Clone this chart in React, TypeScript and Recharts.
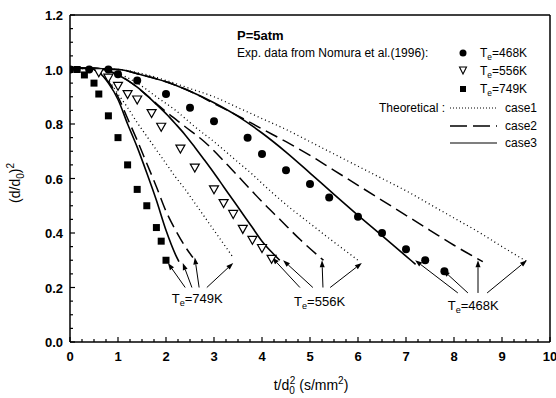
import React from 'react';
import {
  ComposedChart,
  Line,
  Scatter,
  XAxis,
  YAxis,
  ReferenceLine,
  ReferenceDot,
} from 'recharts';

// experimental data, Nomura et al. (1996)
const t468 = [0, 0.4, 0.8, 1.0, 1.4, 2.0, 2.5, 3.0, 3.7, 4.0, 4.5, 5.0, 5.4, 6.0, 6.5, 7.0, 7.4, 7.8];
const v468 = [1.0, 1.0, 1.0, 0.983, 0.96, 0.91, 0.86, 0.81, 0.75, 0.69, 0.63, 0.58, 0.53, 0.46, 0.4, 0.34, 0.3, 0.26];
const t556 = [0.6, 0.8, 1.0, 1.2, 1.4, 1.7, 1.9, 2.3, 2.6, 3.0, 3.2, 3.4, 3.6, 3.8, 4.0, 4.2];
const v556 = [0.99, 0.97, 0.94, 0.91, 0.89, 0.84, 0.79, 0.71, 0.64, 0.56, 0.51, 0.47, 0.415, 0.375, 0.345, 0.305];
const t749 = [0, 0.15, 0.3, 0.5, 0.6, 0.8, 1.0, 1.2, 1.4, 1.6, 1.8, 1.9, 2.0];
const v749 = [1.0, 1.0, 0.98, 0.95, 0.91, 0.83, 0.75, 0.65, 0.56, 0.5, 0.42, 0.37, 0.3];

// theoretical curves
const c1t749 = [0, 0.5, 0.8, 1.0, 1.2, 1.4, 1.6, 1.8, 2.0, 2.2, 2.4, 2.6, 2.8, 3.0, 3.2, 3.4];
const c1v749 = [1.005, 1.0, 0.96, 0.91, 0.86, 0.805, 0.755, 0.705, 0.655, 0.605, 0.56, 0.51, 0.46, 0.41, 0.36, 0.31];
const c2t749 = [0, 0.4, 0.6, 0.8, 1.0, 1.2, 1.4, 1.6, 1.8, 2.0, 2.2, 2.4, 2.56];
const c2v749 = [1.005, 1.005, 0.99, 0.955, 0.9, 0.82, 0.74, 0.655, 0.57, 0.48, 0.41, 0.35, 0.31];
const c3t749 = [0, 0.4, 0.6, 0.8, 1.0, 1.2, 1.4, 1.6, 1.8, 2.0, 2.2, 2.27];
const c3v749 = [1.005, 1.005, 0.99, 0.95, 0.89, 0.8, 0.715, 0.62, 0.52, 0.41, 0.32, 0.295];

const c1t556 = [0, 0.7, 1.0, 1.4, 1.8, 2.2, 2.6, 3.0, 3.4, 3.8, 4.2, 4.6, 5.0, 5.4, 5.7, 6.0];
const c1v556 = [1.005, 1.0, 0.985, 0.95, 0.9, 0.85, 0.79, 0.735, 0.675, 0.615, 0.55, 0.49, 0.435, 0.38, 0.34, 0.3];
const c2t556 = [0, 0.5, 0.8, 1.0, 1.2, 1.4, 1.6, 1.8, 2.0, 2.4, 2.8, 3.2, 3.6, 4.0, 4.4, 4.8, 5.28];
const c2v556 = [1.005, 1.005, 0.995, 0.98, 0.96, 0.935, 0.905, 0.875, 0.845, 0.79, 0.735, 0.665, 0.59, 0.515, 0.445, 0.375, 0.3];
const c3t556 = [0, 0.5, 0.8, 1.0, 1.2, 1.4, 1.6, 1.8, 2.0, 2.2, 2.4, 2.6, 2.8, 3.0, 3.2, 3.4, 3.6, 3.8, 4.0, 4.2, 4.37];
const c3v556 = [1.005, 1.005, 0.995, 0.98, 0.96, 0.935, 0.905, 0.872, 0.838, 0.8, 0.76, 0.715, 0.668, 0.62, 0.57, 0.52, 0.47, 0.42, 0.37, 0.33, 0.3];

const c1t468 = [0, 1.0, 1.5, 2.0, 2.5, 3.0, 3.5, 4.0, 4.5, 5.0, 5.5, 6.0, 6.5, 7.0, 7.5, 8.0, 8.5, 9.0, 9.5];
const c1v468 = [1.005, 1.0, 0.985, 0.96, 0.93, 0.9, 0.86, 0.82, 0.78, 0.735, 0.69, 0.645, 0.6, 0.555, 0.505, 0.455, 0.405, 0.35, 0.297];
const c2t468 = [0, 1.0, 1.5, 2.0, 2.5, 3.0, 3.5, 4.0, 4.5, 5.0, 5.5, 6.0, 6.5, 7.0, 7.5, 8.0, 8.6];
const c2v468 = [1.005, 1.0, 0.98, 0.955, 0.92, 0.875, 0.83, 0.782, 0.735, 0.685, 0.63, 0.575, 0.52, 0.465, 0.41, 0.355, 0.295];
const c3t468 = [0, 1.0, 1.5, 2.0, 2.5, 3.0, 3.5, 4.0, 4.5, 5.0, 5.5, 6.0, 6.5, 7.0, 7.2];
const c3v468 = [1.005, 1.0, 0.98, 0.955, 0.92, 0.878, 0.828, 0.767, 0.697, 0.62, 0.542, 0.465, 0.39, 0.315, 0.285];

// annotation arrows: [baseT, baseV, tipT, tipV]
const arrows749 = [[2.4, 0.2, 2.04, 0.29], [2.54, 0.2, 2.35, 0.29], [2.69, 0.2, 2.6, 0.31], [2.85, 0.2, 3.4, 0.29]];
const arrows556 = [[4.79, 0.2, 4.21, 0.31], [5.06, 0.2, 4.44, 0.3], [5.27, 0.2, 5.25, 0.3], [5.42, 0.2, 6.08, 0.29]];
const arrows468 = [[8.08, 0.18, 7.19, 0.3], [8.29, 0.18, 7.77, 0.264], [8.5, 0.18, 8.5, 0.3], [8.69, 0.18, 9.52, 0.3]];
const tempLabels = ['749K', '556K', '468K'];
const labelT = [2.65, 5.2, 8.4];
const labelV = [0.16, 0.15, 0.135];

const xTicks = Array.from({ length: 41 }, (_, i) => i * 0.25);
const yTicks = Array.from({ length: 25 }, (_, i) => Math.round(i * 5) / 100);

const pts = (t: number[], v: number[]) => t.map((x, i) => ({ t: x, v: v[i] }));

const FONT = 'Arial, "Liberation Sans", sans-serif';

const isMajor = (v: number, step: number) => Math.abs(v / step - Math.round(v / step)) < 1e-6;

const BottomTick = (p: any) => {
  const v = p.payload.value;
  const major = isMajor(v, 1);
  return (
    <g>
      <line x1={p.x} x2={p.x} y1={p.y} y2={p.y - (major ? 5 : 3)} stroke="#000" strokeWidth={1.2} />
      {major && (
        <text x={p.x} y={p.y + 19} textAnchor="middle" fontSize={13} fontFamily={FONT} fontWeight="bold" fill="#000">
          {v}
        </text>
      )}
    </g>
  );
};

const TopTick = (p: any) => {
  const major = isMajor(p.payload.value, 1);
  return <line x1={p.x} x2={p.x} y1={p.y} y2={p.y + (major ? 5 : 3)} stroke="#000" strokeWidth={1.2} />;
};

const LeftTick = (p: any) => {
  const v = p.payload.value;
  const major = isMajor(v, 0.2);
  return (
    <g>
      <line x1={p.x} x2={p.x + (major ? 5 : 3)} y1={p.y} y2={p.y} stroke="#000" strokeWidth={1.2} />
      {major && (
        <text x={p.x - 7} y={p.y + 5} textAnchor="end" fontSize={13} fontFamily={FONT} fontWeight="bold" fill="#000">
          {v.toFixed(1)}
        </text>
      )}
    </g>
  );
};

const RightTick = (p: any) => {
  const major = isMajor(p.payload.value, 0.2);
  return <line x1={p.x} x2={p.x - (major ? 5 : 3)} y1={p.y} y2={p.y} stroke="#000" strokeWidth={1.2} />;
};

const Arrow = (p: any) => {
  const { x1, y1, x2, y2 } = p;
  const a = Math.atan2(y2 - y1, x2 - x1);
  const L = 7;
  const W = 2.5;
  const bx = x2 - L * Math.cos(a);
  const by = y2 - L * Math.sin(a);
  const nx = -Math.sin(a) * W;
  const ny = Math.cos(a) * W;
  return (
    <g>
      <line x1={x1} y1={y1} x2={bx} y2={by} stroke="#000" strokeWidth={1} />
      <polygon points={`${x2},${y2} ${bx + nx},${by + ny} ${bx - nx},${by - ny}`} fill="#000" />
    </g>
  );
};

const Circle = (p: any) => <circle cx={p.cx} cy={p.cy} r={4} fill="#000" />;
const Tri = (p: any) => (
  <polygon
    points={`${p.cx - 4.5},${p.cy - 3.5} ${p.cx + 4.5},${p.cy - 3.5} ${p.cx},${p.cy + 4.5}`}
    fill="#fff"
    stroke="#000"
    strokeWidth={1.2}
  />
);
const Sq = (p: any) => <rect x={p.cx - 3.5} y={p.cy - 3.5} width={7} height={7} fill="#000" />;

const TeText = ({ x, y, k, anchor = 'middle', size = 12 }: any) => (
  <text x={x} y={y} textAnchor={anchor} fontSize={size} fontFamily={FONT} fill="#000">
    T
    <tspan fontSize={size * 0.7} dy={3}>
      e
    </tspan>
    <tspan dy={-3}>={k}</tspan>
  </text>
);

const dotted = { stroke: '#000', strokeWidth: 1.3, strokeDasharray: '1 3' };
const dashed = { stroke: '#000', strokeWidth: 1.5, strokeDasharray: '13 6' };
const solid = { stroke: '#000', strokeWidth: 1.6 };

const curves = [
  { d: pts(c1t749, c1v749), s: dotted },
  { d: pts(c2t749, c2v749), s: dashed },
  { d: pts(c3t749, c3v749), s: solid },
  { d: pts(c1t556, c1v556), s: dotted },
  { d: pts(c2t556, c2v556), s: dashed },
  { d: pts(c3t556, c3v556), s: solid },
  { d: pts(c1t468, c1v468), s: dotted },
  { d: pts(c2t468, c2v468), s: dashed },
  { d: pts(c3t468, c3v468), s: solid },
];

const axisLine = { stroke: '#000', strokeWidth: 1.5 };

export default function App() {
  const allArrows = [...arrows749, ...arrows556, ...arrows468];
  return (
    <div style={{ position: 'absolute', left: 0, top: 0, width: 556, height: 398, background: '#fff' }}>
      <ComposedChart width={556} height={398} margin={{ top: 14, right: 5, bottom: 55, left: 69 }}>
        <XAxis
          xAxisId="b"
          type="number"
          dataKey="t"
          domain={[0, 10]}
          ticks={xTicks}
          interval={0}
          height={1}
          tickSize={0}
          tickMargin={0}
          tickLine={false}
          tick={<BottomTick />}
          axisLine={axisLine}
          allowDataOverflow
        />
        <XAxis
          xAxisId="t"
          orientation="top"
          type="number"
          dataKey="t"
          domain={[0, 10]}
          ticks={xTicks}
          interval={0}
          height={1}
          tickSize={0}
          tickMargin={0}
          tickLine={false}
          tick={<TopTick />}
          axisLine={axisLine}
        />
        <YAxis
          yAxisId="l"
          type="number"
          dataKey="v"
          domain={[0, 1.2]}
          ticks={yTicks}
          interval={0}
          width={1}
          tickSize={0}
          tickMargin={0}
          tickLine={false}
          tick={<LeftTick />}
          axisLine={axisLine}
          allowDataOverflow
        />
        <YAxis
          yAxisId="r"
          orientation="right"
          type="number"
          dataKey="v"
          domain={[0, 1.2]}
          ticks={yTicks}
          interval={0}
          width={1}
          tickSize={0}
          tickMargin={0}
          tickLine={false}
          tick={<RightTick />}
          axisLine={axisLine}
        />
        {curves.map((c, i) => (
          <Line
            key={i}
            xAxisId="b"
            yAxisId="l"
            data={c.d}
            dataKey="v"
            type="monotone"
            dot={false}
            activeDot={false}
            isAnimationActive={false}
            {...c.s}
          />
        ))}
        <Scatter xAxisId="b" yAxisId="l" data={pts(t468, v468)} dataKey="v" shape={<Circle />} isAnimationActive={false} />
        <Scatter xAxisId="b" yAxisId="l" data={pts(t556, v556)} dataKey="v" shape={<Tri />} isAnimationActive={false} />
        <Scatter xAxisId="b" yAxisId="l" data={pts(t749, v749)} dataKey="v" shape={<Sq />} isAnimationActive={false} />
        {allArrows.map((a, i) => (
          <ReferenceLine
            key={'a' + i}
            xAxisId="b"
            yAxisId="l"
            segment={[
              { x: a[0], y: a[1] },
              { x: a[2], y: a[3] },
            ]}
            shape={<Arrow />}
            stroke="#000"
          />
        ))}
        {tempLabels.map((k, i) => (
          <ReferenceDot
            key={'l' + i}
            xAxisId="b"
            yAxisId="l"
            x={labelT[i]}
            y={labelV[i]}
            r={0}
            shape={(p: any) => <TeText x={p.cx} y={p.cy + 5} k={k} size={13} />}
          />
        ))}
      </ComposedChart>
      <svg width={556} height={398} style={{ position: 'absolute', left: 0, top: 0, pointerEvents: 'none' }}>
        <text x={237} y={40} fontSize={13} fontWeight="bold" fontFamily={FONT}>
          P=5atm
        </text>
        <text x={237} y={57} fontSize={12} fontFamily={FONT}>
          Exp. data from Nomura et al.(1996):
        </text>
        <circle cx={463} cy={53} r={3.5} fill="#000" />
        <TeText x={480} y={57} k="468K" anchor="start" />
        <polygon points="459.5,67 466.5,67 463,74" fill="#fff" stroke="#000" strokeWidth={1.1} />
        <TeText x={480} y={75} k="556K" anchor="start" />
        <rect x={460} y={86} width={6} height={6} fill="#000" />
        <TeText x={480} y={93} k="749K" anchor="start" />
        <text x={445} y={112} textAnchor="end" fontSize={12} fontFamily={FONT}>
          Theoretical :
        </text>
        <line x1={450} x2={497} y1={108} y2={108} {...dotted} strokeWidth={1} strokeDasharray="1 2" />
        <text x={505} y={112} fontSize={12} fontFamily={FONT}>
          case1
        </text>
        <line x1={450} x2={497} y1={126} y2={126} {...dashed} strokeDasharray="17 6" />
        <text x={505} y={130} fontSize={12} fontFamily={FONT}>
          case2
        </text>
        <line x1={450} x2={497} y1={143} y2={143} {...solid} strokeWidth={1.2} />
        <text x={505} y={147} fontSize={12} fontFamily={FONT}>
          case3
        </text>
        <text transform="translate(20,183) rotate(-90)" textAnchor="middle" fontSize={14} fontFamily={FONT}>
          (d/d
          <tspan fontSize={10} dy={4}>
            0
          </tspan>
          <tspan dy={-4}>)</tspan>
          <tspan fontSize={10} dy={-6}>
            2
          </tspan>
        </text>
        <text x={311} y={390} textAnchor="middle" fontSize={14} fontFamily={FONT}>
          t/d
          <tspan fontSize={10} dy={4}>
            0
          </tspan>
          <tspan fontSize={10} dy={-10} dx={-5}>
            2
          </tspan>
          <tspan dy={6}> (s/mm</tspan>
          <tspan fontSize={10} dy={-6}>
            2
          </tspan>
          <tspan dy={6}>)</tspan>
        </text>
      </svg>
    </div>
  );
}
